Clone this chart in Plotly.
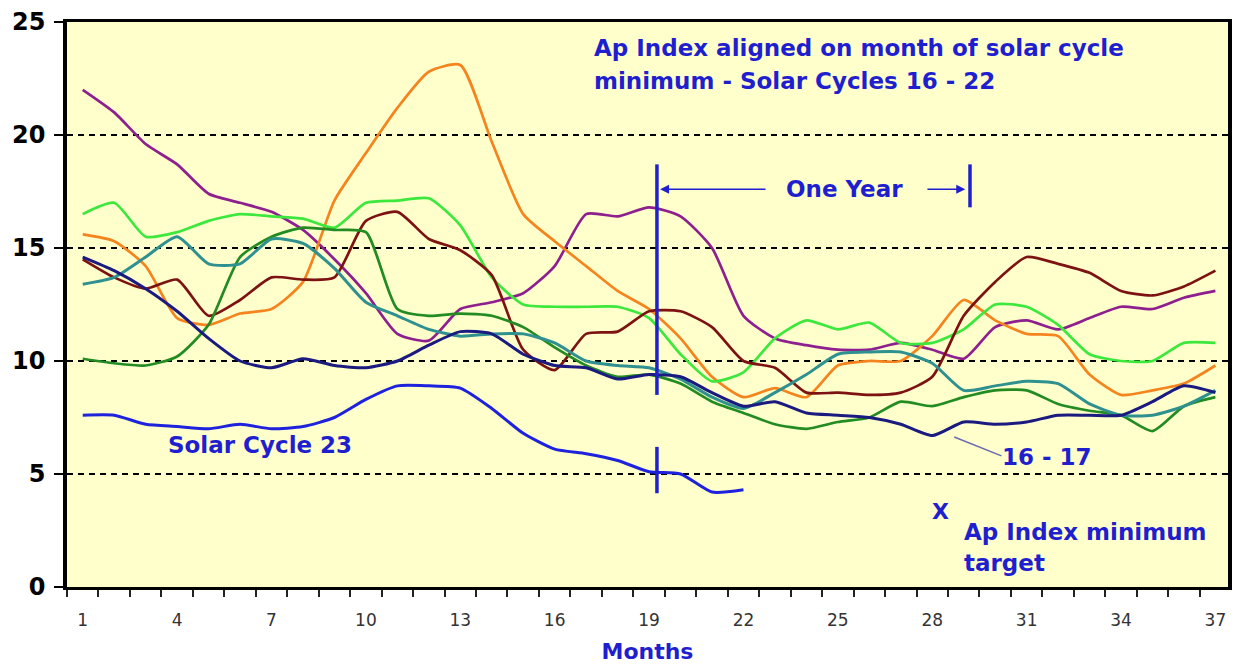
import plotly.graph_objects as go

months = list(range(1, 38))
tick_months = list(range(1, 38, 3))
tick_labels = [str(m) for m in tick_months]
y_ticks = [0, 5, 10, 15, 20, 25]

purple = [22.0, 21.0, 19.6, 18.7, 17.4, 17.0, 16.6, 15.8, 14.5, 13.0, 11.2, 10.9, 12.3, 12.6, 13.0, 14.2, 16.5, 16.4, 16.8,
          16.4, 15.0, 12.0, 11.0, 10.7, 10.5, 10.5, 10.8, 10.5, 10.1, 11.5, 11.8, 11.4, 11.9, 12.4, 12.3, 12.8, 13.1]
orange = [15.6, 15.3, 14.2, 11.9, 11.6, 12.1, 12.3, 13.5, 17.1, 19.2, 21.2, 22.8, 23.1, 19.7, 16.5, 15.3, 14.2, 13.1, 12.3,
          11.0, 9.3, 8.4, 8.8, 8.4, 9.8, 10.0, 10.0, 11.1, 12.7, 11.8, 11.2, 11.1, 9.4, 8.5, 8.7, 9.0, 9.8]
light_green = [16.5, 17.0, 15.5, 15.7, 16.2, 16.5, 16.4, 16.3, 15.9, 17.0, 17.1, 17.2, 16.0, 13.7, 12.5, 12.4, 12.4, 12.4, 11.9,
               10.3, 9.1, 9.5, 11.0, 11.8, 11.4, 11.7, 10.8, 10.8, 11.4, 12.5, 12.4, 11.6, 10.3, 10.0, 10.0, 10.8, 10.8]
brown = [14.5, 13.7, 13.2, 13.6, 12.0, 12.7, 13.7, 13.6, 13.7, 16.2, 16.6, 15.4, 14.9, 13.8, 10.5, 9.6, 11.2, 11.3, 12.2,
         12.2, 11.5, 10.0, 9.7, 8.6, 8.6, 8.5, 8.6, 9.3, 12.0, 13.5, 14.6, 14.3, 13.9, 13.1, 12.9, 13.3, 14.0]
dark_green = [10.1, 9.9, 9.8, 10.2, 11.6, 14.6, 15.5, 15.9, 15.8, 15.7, 12.3, 12.0, 12.1, 12.0, 11.5, 10.6, 9.8, 9.3, 9.4,
              9.0, 8.2, 7.7, 7.2, 7.0, 7.3, 7.5, 8.2, 8.0, 8.4, 8.7, 8.7, 8.1, 7.8, 7.6, 6.9, 8.0, 8.4]
teal = [13.4, 13.7, 14.6, 15.5, 14.3, 14.3, 15.4, 15.2, 14.1, 12.6, 12.0, 11.4, 11.1, 11.2, 11.2, 10.8, 10.0, 9.8, 9.7,
        9.2, 8.4, 7.9, 8.6, 9.4, 10.3, 10.4, 10.4, 9.9, 8.7, 8.9, 9.1, 9.0, 8.1, 7.6, 7.6, 8.0, 8.7]
navy_16_17 = [14.6, 14.0, 13.2, 12.2, 11.0, 10.0, 9.7, 10.1, 9.8, 9.7, 10.0, 10.7, 11.3, 11.2, 10.3, 9.8, 9.7, 9.2, 9.4,
              9.3, 8.6, 8.0, 8.2, 7.7, 7.6, 7.5, 7.2, 6.7, 7.3, 7.2, 7.3, 7.6, 7.6, 7.6, 8.2, 8.9, 8.6]
cycle23_months = list(range(1, 23))
cycle23 = [7.6, 7.6, 7.2, 7.1, 7.0, 7.2, 7.0, 7.1, 7.5, 8.3, 8.9, 8.9, 8.8, 7.9, 6.8, 6.1, 5.9, 5.6, 5.1, 5.0, 4.2, 4.3]

series = [
    ("Cycle A", purple, "#8E1F8E", 2.7),
    ("Cycle B", orange, "#F5841F", 2.7),
    ("Cycle C", light_green, "#3DE83D", 2.7),
    ("Cycle D", brown, "#7D1212", 2.7),
    ("Cycle E", dark_green, "#228B22", 2.7),
    ("Cycle F", teal, "#2F9090", 3.0),
    ("16 - 17", navy_16_17, "#1A1A80", 3.0),
]

BLUE = "#1F1FCF"
FONT = "DejaVu Sans"
TXT = dict(family=FONT, size=23, color=BLUE, weight="bold")

fig = go.Figure()
for name, vals, col, w in series:
    fig.add_trace(go.Scatter(x=months, y=vals, mode="lines", name=name,
                             line=dict(color=col, width=w, shape="spline", smoothing=0.6)))
fig.add_trace(go.Scatter(x=cycle23_months, y=cycle23, mode="lines", name="Solar Cycle 23",
                         line=dict(color="#1E22DD", width=3.0, shape="spline", smoothing=0.6)))

MIN_MONTH = 19.25
YEAR_END = 29.2

shapes = [
    dict(type="line", xref="x", yref="y", x0=MIN_MONTH, x1=MIN_MONTH, y0=8.5, y1=18.7,
         line=dict(color=BLUE, width=3.5)),
    dict(type="line", xref="x", yref="y", x0=MIN_MONTH, x1=MIN_MONTH, y0=4.15, y1=6.2,
         line=dict(color=BLUE, width=3.5)),
    dict(type="line", xref="x", yref="y", x0=YEAR_END, x1=YEAR_END, y0=16.8, y1=18.7,
         line=dict(color=BLUE, width=3.5)),
    dict(type="line", xref="x", yref="y", x0=28.7, x1=30.2, y0=6.64, y1=5.8,
         line=dict(color="#6A6AB0", width=1.5)),
]

annotations = [
    dict(x=17.19, y=23.85, xref="x", yref="y", xanchor="left", yanchor="middle", showarrow=False,
         text="Ap Index aligned on month of solar cycle", font=TXT),
    dict(x=17.19, y=22.4, xref="x", yref="y", xanchor="left", yanchor="middle", showarrow=False,
         text="minimum - Solar Cycles 16 - 22", font=TXT),
    dict(x=25.2, y=17.6, xref="x", yref="y", showarrow=False, text="One Year", font=TXT),
    dict(x=MIN_MONTH + 0.1, y=17.6, ax=22.75, ay=17.6, xref="x", yref="y", axref="x", ayref="y",
         text="", showarrow=True, arrowhead=2, arrowsize=1.2, arrowwidth=1.5, arrowcolor=BLUE),
    dict(x=YEAR_END - 0.15, y=17.6, ax=27.8, ay=17.6, xref="x", yref="y", axref="x", ayref="y",
         text="", showarrow=True, arrowhead=2, arrowsize=1.2, arrowwidth=1.5, arrowcolor=BLUE),
    dict(x=6.63, y=6.28, xref="x", yref="y", showarrow=False, text="Solar Cycle 23", font=TXT),
    dict(x=31.65, y=5.75, xref="x", yref="y", showarrow=False, text="16 - 17", font=TXT),
    dict(x=28.25, y=3.35, xref="x", yref="y", showarrow=False, text="X",
         font=dict(family=FONT, size=22, color=BLUE, weight="bold")),
    dict(x=28.95, y=2.43, xref="x", yref="y", xanchor="left", yanchor="middle", showarrow=False,
         text="Ap Index minimum", font=TXT),
    dict(x=28.95, y=1.06, xref="x", yref="y", xanchor="left", yanchor="middle", showarrow=False,
         text="target", font=TXT),
]

fig.update_layout(
    width=1233, height=664,
    margin=dict(l=67, r=5, t=22, b=77, autoexpand=False),
    paper_bgcolor="white",
    plot_bgcolor="#FFFFCC",
    showlegend=False,
    shapes=shapes,
    annotations=annotations,
    xaxis=dict(
        range=[0.5, 37.4], tickmode="array", tickvals=tick_months, ticktext=tick_labels,
        ticks="", showgrid=False, zeroline=False, automargin=False,
        showline=True, mirror=True, linecolor="black", linewidth=3,
        tickfont=dict(family=FONT, size=17, color="#333333"),
        ticklabelstandoff=16,
        minor=dict(ticks="outside", tick0=0.5, dtick=1, ticklen=7, tickwidth=2, tickcolor="#222222", showgrid=False),
        title=dict(text="Months", font=dict(family=FONT, size=22, color=BLUE, weight="bold"), standoff=16),
    ),
    yaxis=dict(
        range=[0, 25], tickmode="array", tickvals=y_ticks, automargin=False,
        ticks="outside", ticklen=9, tickwidth=2, tickcolor="black",
        showgrid=True, gridcolor="black", gridwidth=1.5, griddash="6px,5px",
        zeroline=False, showline=True, mirror=True, linecolor="black", linewidth=3.5,
        tickfont=dict(family=FONT, size=24, color="black", weight="bold"),
        ticklabelstandoff=4,
    ),
)

fig.write_html("out.html", config={"displayModeBar": False},
               post_script="document.body.style.margin='0px';document.documentElement.style.overflow='hidden';")
